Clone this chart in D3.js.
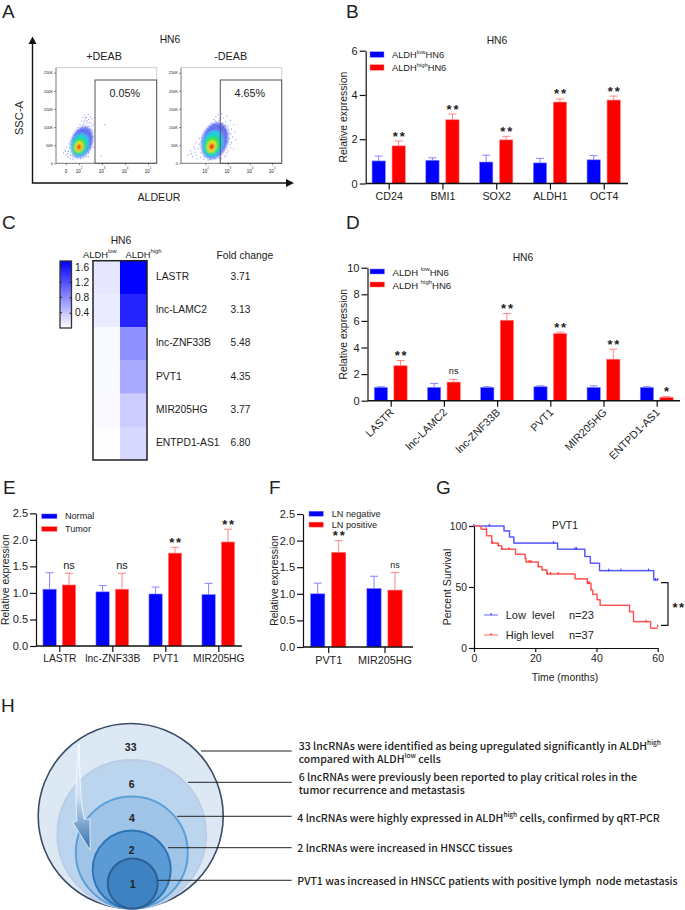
<!DOCTYPE html>
<html lang="en">
<head>
  <meta charset="UTF-8">
  <title>HN6 panels</title>
  <script src="https://d3js.org/d3.v7.min.js"></script>
  <style>
    body { margin: 0; background: #fff; }
    svg { display: block; }
    text { font-family: "Liberation Sans", Arial, sans-serif; fill: #222; }
    .axis path, .axis line { stroke: #111; stroke-width: 1.2; }
    .axis text { fill: #222; }
  </style>
</head>
<body>
  <svg width="685" height="910"></svg>

  <script>
    // panel A, flow plots (x in log10 decades, y in thousands)
    const flowYTicks = [0, 50, 100, 150, 200, 250];
    const flowPercent = ["0.05%", "4.65%"];
    const flowTitles = ["+DEAB", "-DEAB"];
    // contours: centre x, centre y, half width, half height
    const flowContoursPlus = [
      [2.12, 58, 0.46, 44], [2.05, 51, 0.36, 31], [2.02, 48, 0.27, 23], [2.0, 46, 0.18, 15], [2.0, 45, 0.09, 8]
    ];
    const flowContoursMinus = [
      [2.42, 62, 0.58, 52], [2.34, 54, 0.44, 36], [2.3, 50, 0.32, 26], [2.28, 47, 0.2, 17], [2.28, 46, 0.11, 9]
    ];
    const flowDotsPlus = [
      [1.3, 30], [1.35, 38], [1.42, 24], [1.45, 46], [1.5, 18], [1.52, 34], [1.55, 55], [1.6, 14], [1.62, 62],
      [1.68, 24], [1.7, 70], [1.72, 12], [1.78, 78], [1.8, 60], [1.85, 84], [1.88, 16], [1.9, 92], [1.92, 74],
      [1.95, 100], [2.0, 82], [2.02, 108], [2.05, 14], [2.08, 92], [2.1, 118], [2.12, 100], [2.15, 128], [2.18, 110],
      [2.2, 88], [2.22, 134], [2.25, 120], [2.28, 100], [2.3, 128], [2.32, 112], [2.35, 90], [2.38, 136], [2.4, 122],
      [2.42, 104], [2.45, 80], [2.48, 130], [2.5, 112], [2.5, 60], [2.52, 94], [2.55, 124], [2.58, 76], [2.6, 108],
      [2.62, 46], [2.65, 92], [2.4, 30], [2.3, 20], [2.45, 44], [2.2, 16], [3.1, 108], [2.95, 22],
      [1.4, 34], [1.48, 28], [1.56, 44], [1.6, 22], [1.65, 52], [1.72, 18], [1.76, 66], [1.82, 20], [1.86, 72],
      [1.96, 90], [2.04, 98], [2.14, 106], [2.16, 92], [2.2, 116], [2.24, 104], [2.27, 126], [2.34, 118], [2.36, 102],
      [2.42, 114], [2.44, 96], [2.5, 84], [2.52, 72], [2.54, 104], [2.46, 68], [2.56, 88], [2.48, 54], [2.4, 20]
    ];
    const flowDotsMinus = [
      [1.2, 24], [1.3, 36], [1.4, 20], [1.45, 46], [1.5, 30], [1.55, 58], [1.6, 14], [1.65, 42], [1.7, 70],
      [1.75, 18], [1.8, 62], [1.85, 80], [1.9, 12], [1.95, 88], [2.0, 72], [2.05, 96], [2.1, 10], [2.15, 104],
      [2.2, 84], [2.25, 112], [2.3, 96], [2.35, 122], [2.4, 108], [2.45, 130], [2.5, 114], [2.55, 136], [2.6, 100],
      [2.65, 124], [2.7, 138], [2.75, 112], [2.8, 126], [2.85, 92], [2.9, 116], [2.95, 132], [3.0, 104], [3.05, 84],
      [3.1, 120], [3.15, 96], [3.2, 74], [3.25, 108], [3.3, 88], [3.0, 60], [3.1, 44], [2.95, 30], [2.85, 20],
      [3.15, 58], [2.7, 14], [3.35, 66], [3.25, 40],
      [1.35, 28], [1.5, 40], [1.58, 24], [1.68, 54], [1.78, 30], [1.82, 72], [1.92, 20], [2.02, 84], [2.12, 94],
      [2.22, 100], [2.32, 108], [2.42, 118], [2.52, 104], [2.58, 120], [2.68, 110], [2.72, 96], [2.78, 100], [2.88, 106],
      [2.92, 84], [3.02, 94], [3.06, 70], [3.12, 82], [3.08, 52], [3.0, 36], [2.9, 24], [2.6, 16], [2.4, 14], [2.2, 12]
    ];

    // panel B
    const bCats = ["CD24", "BMI1", "SOX2", "ALDH1", "OCT4"];
    const bLow = [1.02, 1.05, 0.97, 0.93, 1.07];
    const bLowTop = [1.24, 1.16, 1.28, 1.14, 1.26];
    const bHigh = [1.7, 2.88, 1.97, 3.68, 3.77];
    const bHighTop = [1.92, 3.14, 2.13, 3.82, 3.95];
    const bSig = ["**", "**", "**", "**", "**"];
    const bTicks = [0, 2, 4, 6];

    // panel C
    const cRows = ["LASTR", "lnc-LAMC2", "lnc-ZNF33B", "PVT1", "MIR205HG", "ENTPD1-AS1"];
    const cFold = ["3.71", "3.13", "5.48", "4.35", "3.77", "6.80"];
    const cLow = [0.17, 0.14, 0.05, 0.05, 0.04, 0.01];
    const cHigh = [1.75, 1.5, 0.76, 0.59, 0.35, 0.27];
    const cTicks = [0.4, 0.8, 1.2, 1.6];

    // panel D
    const dCats = ["LASTR", "lnc-LAMC2", "lnc-ZNF33B", "PVT1", "MIR205HG", "ENTPD1-AS1"];
    const dLow = [1.0, 1.0, 1.0, 1.05, 1.0, 1.0];
    const dLowTop = [1.05, 1.3, 1.05, 1.12, 1.12, 1.05];
    const dHigh = [2.63, 1.4, 6.05, 5.05, 3.12, 0.25];
    const dHighTop = [3.02, 1.6, 6.55, 5.15, 3.87, 0.32];
    const dSig = ["**", "ns", "**", "**", "**", "*"];
    const dTicks = [0, 2, 4, 6, 8, 10];

    // panel E
    const eCats = ["LASTR", "lnc-ZNF33B", "PVT1", "MIR205HG"];
    const eLow = [1.07, 1.02, 0.98, 0.97];
    const eLowTop = [1.38, 1.14, 1.11, 1.18];
    const eHigh = [1.15, 1.07, 1.75, 1.96];
    const eHighTop = [1.37, 1.37, 1.86, 2.2];
    const eSig = ["ns", "ns", "**", "**"];

    // panel F
    const fCats = ["PVT1", "MIR205HG"];
    const fLow = [1.0, 1.1];
    const fLowTop = [1.2, 1.33];
    const fHigh = [1.78, 1.07];
    const fHighTop = [2.0, 1.4];
    const fSig = ["**", "ns"];
    const halfTicks = [0, 0.5, 1, 1.5, 2, 2.5];

    // panel G, survival steps [month, percent]
    const gLowSteps = [[0, 100], [9.8, 96], [11.6, 91], [13, 86], [27.3, 81], [36.2, 75], [38, 69.5], [41, 63.4], [58.7, 55.7], [60, 55.7]];
    const gHighSteps = [[0, 100], [2.3, 97.3], [4.1, 92], [5.8, 86], [7.9, 83.8], [9, 81], [13.6, 76.8], [16.7, 73.5], [17, 70.5], [21, 66.6],
      [22.2, 64], [23.8, 60.7], [33, 56.7], [37, 53], [38.2, 47.5], [38.8, 44], [40.2, 39.5], [41.2, 35], [50.8, 29.8], [52.1, 21.6], [57.7, 16.2], [60, 16.2]];
    const gLowCensor = [[0, 100], [5, 100], [26, 86], [33, 81], [33.5, 81], [44, 63.4], [48, 63.4], [57, 63.4], [59.3, 55.7], [60, 55.7]];
    const gHighCensor = [[4, 97.3], [6, 86], [8, 83.8], [9.2, 81], [11.4, 81], [18, 70.5], [18.6, 70.5], [21, 66.6], [24, 60.7], [25, 60.7], [27.5, 60.7],
      [37.2, 53], [37.7, 53], [56.2, 21.6], [60, 17.5]];
    const gXTicks = [0, 20, 40, 60];
    const gYTicks = [0, 50, 100];

    // panel H
    const hCounts = [33, 6, 4, 2, 1];
    const hText = [
      [[["33 lncRNAs were identified as being upregulated significantly in ALDH"], ["high", true]], [["compared with ALDH"], ["low", true], [" cells"]]],
      [[["6 lncRNAs were previously been reported to play critical roles in the"]], [["tumor recurrence and metastasis"]]],
      [[["4 lncRNAs were highly expressed in ALDH"], ["high", true], [" cells, confirmed by qRT-PCR"]]],
      [[["2 lncRNAs were increased in HNSCC tissues"]]],
      [[["PVT1 was increased in HNSCC patients with positive lymph  node metastasis"]]]
    ];

    const BLUE = "#0000ff", RED = "#ff0000", BLUE_SOFT = "#8585ff", RED_SOFT = "#ff8585";
    const svg = d3.select("svg");

    // text with optional superscript pieces
    function label(x, y, content, opts = {}) {
      const t = svg.append("text")
        .attr("x", x).attr("y", y)
        .attr("dominant-baseline", "central")
        .attr("text-anchor", opts.anchor || "start")
        .attr("font-size", opts.size || 10)
        .attr("font-weight", opts.weight || null);
      if (opts.rotate !== undefined) t.attr("transform", `rotate(${opts.rotate},${x},${y})`);
      if (opts.spacing) t.attr("letter-spacing", opts.spacing);
      if (opts.family) t.style("font-family", opts.family);
      if (typeof content === "string") { t.text(content); return t; }
      let shifted = 0;
      content.forEach(part => {
        const s = t.append("tspan").text(part[0]);
        const up = part[1] ? -3 : 0;
        if (up !== shifted) s.attr("dy", up - shifted);
        shifted = up;
        if (part[1]) s.attr("font-size", (opts.size || 10) * 0.62);
      });
      return t;
    }

    function panelLetter(x, y, s) {
      svg.append("text").attr("x", x).attr("y", y).attr("font-size", 19).attr("fill", "#222").text(s);
    }
    panelLetter(2, 18, "A"); panelLetter(346, 18, "B");
    panelLetter(2, 229, "C"); panelLetter(346, 229, "D");
    panelLetter(3, 494, "E"); panelLetter(269, 494, "F");
    panelLetter(436, 494, "G"); panelLetter(1, 712, "H");

    // ---------- A ----------
    const defs = svg.append("defs");
    defs.append("filter").attr("id", "soft").append("feGaussianBlur").attr("stdDeviation", 1.1);
    const contourColors = ["#2a3cf0", "#1fd0e0", "#35e04a", "#f4e82a", "#f01414"];

    function flowPlot(left, right, xDomain, contours, dots, xTickVals, title, titleX, pct, pctX, gateLeft) {
      const x = d3.scaleLinear().domain(xDomain).range([left, right]);
      const y = d3.scaleLinear().domain([0, 250]).range([163.3, 72.7]);
      const g = svg.append("g");

      dots.forEach(d => {
        g.append("rect").attr("x", x(d[0])).attr("y", y(d[1])).attr("width", 1).attr("height", 1)
          .attr("fill", "#4a5cf2").attr("opacity", 0.7);
      });
      const blob = g.append("g").attr("filter", "url(#soft)");
      contours.forEach((c, i) => {
        blob.append("ellipse")
          .attr("cx", x(c[0])).attr("cy", y(c[1]))
          .attr("rx", x(c[0] + c[2]) - x(c[0]))
          .attr("ry", y(c[1]) - y(c[1] + c[3]))
          .attr("fill", contourColors[i])
          .attr("opacity", i === 0 ? 0.7 : 1)
          .attr("transform", `rotate(18,${x(c[0])},${y(c[1])})`);
      });

      // frame
      g.append("path").attr("d", `M${left},67.7H${right}V163.3`).attr("fill", "none").attr("stroke", "#c4c4c4").attr("stroke-width", 0.8);
      g.append("path").attr("d", `M${left},163.3V67.7`).attr("stroke", "#555").attr("stroke-width", 0.8);
      g.append("path").attr("d", `M${left},163.3H${right}`).attr("stroke", "#555").attr("stroke-width", 0.8);
      g.append("rect").attr("x", gateLeft).attr("y", 80).attr("width", right - gateLeft).attr("height", 83.3)
        .attr("fill", "none").attr("stroke", "#555").attr("stroke-width", 1);

      const yAxis = g.append("g").attr("transform", `translate(${left},0)`)
        .call(d3.axisLeft(y).tickValues(flowYTicks).tickSize(2).tickPadding(1).tickFormat(v => v === 0 ? "0" : v + "K"));
      yAxis.select(".domain").remove();
      yAxis.selectAll("line").attr("stroke", "#444").attr("stroke-width", 0.6);
      yAxis.selectAll("text").attr("font-size", 4).attr("fill", "#444");

      const xAxis = g.append("g").attr("transform", "translate(0,163.3)")
        .call(d3.axisBottom(x).tickValues(xTickVals).tickSize(2).tickPadding(2).tickFormat(""));
      xAxis.select(".domain").remove();
      xAxis.selectAll("line").attr("stroke", "#444").attr("stroke-width", 0.6);
      xTickVals.forEach(v => {
        const zero = v < 2;
        label(x(v), 171, zero ? "0" : [["10"], [String(Math.round(v)), true]], { anchor: "middle", size: 4.5 });
      });

      label(titleX, 56, title, { anchor: "middle", size: 10.8 });
      label(pctX, 92.7, pct, { anchor: "middle", size: 10.8 });
    }
    flowPlot(56, 156.7, [1.0, 5.38], flowContoursPlus, flowDotsPlus, [1.43, 2, 3, 4, 5], flowTitles[0], 104, flowPercent[0], 124.7, 95);
    flowPlot(181, 281.7, [0.9, 5.43], flowContoursMinus, flowDotsMinus, [2, 3, 4, 5], flowTitles[1], 230.7, flowPercent[1], 249.7, 220.3);

    label(170, 39, "HN6", { anchor: "middle", size: 10.3 });
    svg.append("path").attr("d", "M32.5,42V183H287").attr("fill", "none").attr("stroke", "#111").attr("stroke-width", 1.4);
    svg.append("path").attr("d", "M32.5,36.5L28.5,44H36.5Z").attr("fill", "#111");
    svg.append("path").attr("d", "M294,183L286,179V187Z").attr("fill", "#111");
    label(18.5, 118, "SSC-A", { anchor: "middle", size: 11.2, rotate: -90 });
    label(159, 197, "ALDEUR", { anchor: "middle", size: 10.6 });

    // ---------- grouped bars, B D E F ----------
    function groupedBars(c) {
      const x = d3.scalePoint().domain(c.cats).range(c.centers);
      const y = d3.scaleLinear().domain([0, c.yMax]).range([c.bottom, c.top]);
      const sub = d3.scalePoint().domain(["low", "high"]).range([-c.offset, c.offset]);
      const g = svg.append("g");

      const series = [
        { key: "low", values: c.low, tops: c.lowTop, fill: BLUE, soft: BLUE_SOFT },
        { key: "high", values: c.high, tops: c.highTop, fill: RED, soft: RED_SOFT }
      ];
      series.forEach(s => {
        c.cats.forEach((cat, i) => {
          const cx = x(cat) + sub(s.key);
          g.append("path")
            .attr("d", `M${cx},${y(s.values[i])}V${y(s.tops[i])}M${cx - 4},${y(s.tops[i])}H${cx + 4}`)
            .attr("fill", "none").attr("stroke", s.soft).attr("stroke-width", 1);
          g.append("rect")
            .attr("x", cx - c.barWidth / 2).attr("y", y(s.values[i]))
            .attr("width", c.barWidth).attr("height", c.bottom - y(s.values[i]))
            .attr("fill", s.fill).attr("stroke", s.soft).attr("stroke-width", 0.6);
        });
      });

      c.cats.forEach((cat, i) => {
        const cx = x(cat) + sub("high");
        const yTop = y(c.highTop[i]) - 8;
        if (c.sig[i] === "ns") {
          label(cx, yTop, "ns", { anchor: "middle", size: c.nsSize || 10 });
        } else {
          svg.append("text").attr("x", cx + 1).attr("y", yTop + 7.5).attr("text-anchor", "middle")
            .attr("font-size", 13).attr("font-weight", "bold").attr("letter-spacing", 1.8).attr("fill", "#111").text(c.sig[i]);
        }
      });

      const yAxis = g.append("g").attr("class", "axis").attr("transform", `translate(${c.left},0)`)
        .call(d3.axisLeft(y).tickValues(c.yTicks).tickSize(6).tickSizeOuter(0).tickPadding(2)
          .tickFormat(c.yFormat || d3.format("d")));
      yAxis.selectAll("text").attr("font-size", 11);

      const xAxis = g.append("g").attr("class", "axis").attr("transform", `translate(0,${c.bottom})`)
        .call(d3.axisBottom(x).tickSize(6).tickPadding(3));
      xAxis.select(".domain").remove();
      xAxis.selectAll("text").attr("font-size", c.xSize || 10.7);
      if (c.slant) {
        xAxis.selectAll("text").attr("text-anchor", "end").attr("dy", 0)
          .attr("transform", "translate(-3,6) rotate(-45)");
      }
      g.append("line").attr("x1", c.left).attr("x2", c.right).attr("y1", c.bottom).attr("y2", c.bottom)
        .attr("stroke", "#111").attr("stroke-width", 1.4);

      label(c.titleX, (c.top + c.bottom) / 2, "Relative expression", { anchor: "middle", size: 10.4, rotate: -90 });

      c.legend.forEach((entry, i) => {
        const row = c.legendRows[i];
        svg.append("rect").attr("x", c.legendX).attr("y", row - c.legendH / 2)
          .attr("width", c.legendW).attr("height", c.legendH)
          .attr("fill", i ? RED : BLUE).attr("stroke", i ? RED_SOFT : BLUE_SOFT).attr("stroke-width", 0.5);
        label(c.legendTextX, row, entry, { size: c.legendSize });
      });
    }

    groupedBars({
      cats: bCats, low: bLow, lowTop: bLowTop, high: bHigh, highTop: bHighTop, sig: bSig,
      centers: [388.7, 603.7], offset: 10, barWidth: 13.3,
      left: 365.7, right: 628, top: 50.7, bottom: 183.5, yMax: 6, yTicks: bTicks, titleX: 344,
      legend: [[["ALDH"], ["low", true], ["HN6"]], [["ALDH"], ["high", true], ["HN6"]]],
      legendX: 370, legendW: 14, legendH: 5.5, legendRows: [54.5, 67.5], legendTextX: 392, legendSize: 9.3
    });
    label(497, 40, "HN6", { anchor: "middle", size: 10.3 });

    groupedBars({
      cats: dCats, low: dLow, lowTop: dLowTop, high: dHigh, highTop: dHighTop, sig: dSig,
      centers: [390.7, 656.7], offset: 9.8, barWidth: 13.3,
      left: 367.5, right: 680, top: 267.7, bottom: 400.7, yMax: 10, yTicks: dTicks, titleX: 344, slant: true,
      nsSize: 9.2, xSize: 10.8,
      legend: [[["ALDH "], ["low", true], ["HN6"]], [["ALDH "], ["high", true], ["HN6"]]],
      legendX: 370, legendW: 14.5, legendH: 5, legendRows: [271.5, 284.5], legendTextX: 392.5, legendSize: 9.6
    });
    label(523, 257, "HN6", { anchor: "middle", size: 10.3 });

    groupedBars({
      cats: eCats, low: eLow, lowTop: eLowTop, high: eHigh, highTop: eHighTop, sig: eSig,
      centers: [59.3, 218.3], offset: 9.7, barWidth: 13.3,
      left: 36, right: 242, top: 513.3, bottom: 646, yMax: 2.5, yTicks: halfTicks, yFormat: d3.format(".1f"), titleX: 5.5,
      xSize: 10.3, nsSize: 11,
      legend: ["Normal", "Tumor"],
      legendX: 41.7, legendW: 15.3, legendH: 4.7, legendRows: [516.3, 529], legendTextX: 65, legendSize: 9.1
    });

    groupedBars({
      cats: fCats, low: fLow, lowTop: fLowTop, high: fHigh, highTop: fHighTop, sig: fSig,
      centers: [328.2, 384.5], offset: 10.5, barWidth: 14.3,
      left: 303, right: 413, top: 514, bottom: 647, yMax: 2.5, yTicks: halfTicks, yFormat: d3.format(".1f"), titleX: 274,
      xSize: 10.8, nsSize: 9,
      legend: ["LN negative", "LN positive"],
      legendX: 309, legendW: 14.3, legendH: 5, legendRows: [513.7, 524.6], legendTextX: 331.7, legendSize: 9.2
    });

    // ---------- C heatmap ----------
    const heatColor = d3.scaleLinear().domain([0, 1.75]).range(["#ffffff", "#0000ff"]);
    const heatY = d3.scaleBand().domain(cRows).range([260.7, 460]);
    const heatX = d3.scaleBand().domain(["low", "high"]).range([93, 147]);
    cRows.forEach((r, i) => {
      svg.append("rect").attr("x", heatX("low")).attr("y", heatY(r)).attr("width", heatX.bandwidth()).attr("height", heatY.bandwidth() + 0.3)
        .attr("fill", heatColor(cLow[i]));
      svg.append("rect").attr("x", heatX("high")).attr("y", heatY(r)).attr("width", heatX.bandwidth()).attr("height", heatY.bandwidth() + 0.3)
        .attr("fill", heatColor(cHigh[i]));
      label(156, heatY(r) + heatY.bandwidth() / 2 - 0.8, r, { size: 10.3 });
      label(230.5, heatY(r) + heatY.bandwidth() / 2 - 0.8, cFold[i], { size: 10.2 });
    });
    svg.append("rect").attr("x", 93).attr("y", 260.7).attr("width", 54).attr("height", 199.3)
      .attr("fill", "none").attr("stroke", "#222").attr("stroke-width", 1.5);

    // colour bar
    const barY = d3.scaleLinear().domain([0, 1.75]).range([328, 261]);
    const grad = defs.append("linearGradient").attr("id", "heatBar").attr("x1", 0).attr("x2", 0).attr("y1", 1).attr("y2", 0);
    grad.append("stop").attr("offset", 0).attr("stop-color", heatColor(0));
    grad.append("stop").attr("offset", 1).attr("stop-color", heatColor(1.75));
    svg.append("rect").attr("x", 60).attr("y", 261).attr("width", 11.5).attr("height", 67)
      .attr("fill", "url(#heatBar)").attr("stroke", "#333").attr("stroke-width", 1.3);
    const barAxis = svg.append("g").attr("transform", "translate(71.5,0)")
      .call(d3.axisRight(barY).tickValues(cTicks).tickSize(-2).tickPadding(3.5).tickFormat(d3.format(".1f")));
    barAxis.select(".domain").remove();
    barAxis.selectAll("line").attr("stroke", "#222");
    barAxis.selectAll("text").attr("font-size", 10.2);
    cTicks.forEach(v => {
      svg.append("line").attr("x1", 60).attr("x2", 62).attr("y1", barY(v)).attr("y2", barY(v)).attr("stroke", "#222");
    });

    label(121, 240, "HN6", { anchor: "middle", size: 10.3 });
    label(83, 254, [["ALDH"], ["low", true]], { size: 9.4 });
    label(125.5, 254, [["ALDH"], ["high", true]], { size: 9.4 });
    label(216.5, 255, "Fold change", { size: 10.3 });

    // ---------- G survival ----------
    const gx = d3.scaleLinear().domain([0, 60]).range([474, 657.7]);
    const gy = d3.scaleLinear().domain([0, 100]).range([648, 526]);
    const stepLine = d3.line().x(d => gx(d[0])).y(d => gy(d[1])).curve(d3.curveStepAfter);

    const curves = [
      { steps: gLowSteps, censor: gLowCensor, color: "#3a3aff", soft: "#9a9aff" },
      { steps: gHighSteps, censor: gHighCensor, color: "#ff3030", soft: "#ff9a9a" }
    ];
    curves.forEach(cv => {
      svg.append("path").attr("d", stepLine(cv.steps)).attr("fill", "none").attr("stroke", cv.soft).attr("stroke-width", 1.6);
      svg.append("path").attr("d", stepLine(cv.steps)).attr("fill", "none").attr("stroke", cv.color).attr("stroke-width", 0.8);
      svg.selectAll(null).data(cv.censor).enter().append("line")
        .attr("x1", d => gx(d[0])).attr("x2", d => gx(d[0]))
        .attr("y1", d => gy(d[1]) - 2).attr("y2", d => gy(d[1]) + 0.5)
        .attr("stroke", cv.color).attr("stroke-width", 1.1);
    });

    const gxAxis = svg.append("g").attr("class", "axis").attr("transform", "translate(0,648)")
      .call(d3.axisBottom(gx).tickValues(gXTicks).tickSize(4).tickSizeOuter(0).tickPadding(3));
    gxAxis.selectAll("text").attr("font-size", 10.5);
    const gyAxis = svg.append("g").attr("class", "axis").attr("transform", "translate(474,0)")
      .call(d3.axisLeft(gy).tickValues(gYTicks).tickSize(5).tickSizeOuter(0).tickPadding(2));
    gyAxis.selectAll("text").attr("font-size", 10.3);

    label(446.7, 587, "Percent Survival", { anchor: "middle", size: 10.5, rotate: -90 });
    label(565, 677.5, "Time (months)", { anchor: "middle", size: 10.4 });
    label(565, 525, "PVT1", { anchor: "middle", size: 10.3 });

    [[615, curves[0], "Low  level", "n=23"], [635, curves[1], "High level", "n=37"]].forEach(r => {
      svg.append("line").attr("x1", 484).attr("x2", 498).attr("y1", r[0]).attr("y2", r[0]).attr("stroke", r[1].soft).attr("stroke-width", 1.5);
      svg.append("line").attr("x1", 491).attr("x2", 491).attr("y1", r[0] - 2).attr("y2", r[0] + 0.5).attr("stroke", r[1].color).attr("stroke-width", 1.1);
      label(505.7, r[0] - 0.5, r[2], { size: 11 }).style("white-space", "pre");
      label(569, r[0] - 0.5, r[3], { size: 11 });
    });

    svg.append("path").attr("d", "M661,582.7H668V625.3H661").attr("fill", "none").attr("stroke", "#111").attr("stroke-width", 1.2);
    svg.append("text").attr("x", 679).attr("y", 612).attr("text-anchor", "middle").attr("font-size", 13).attr("font-weight", "bold").attr("letter-spacing", 1.5).attr("fill", "#111").text("**");

    // ---------- H nested circles ----------
    const hRadius = d3.scaleOrdinal().domain(hCounts).range([92.5, 74.3, 56, 39, 25]);
    const hCenterX = d3.scaleOrdinal().domain(hCounts).range([130.7, 131.7, 131.8, 131.7, 132.7]);
    const hFill = d3.scaleOrdinal().domain(hCounts).range(["#dde8f5", "#bcd5ee", "#a0c4e8", "#5b9bd5", "#3f82c2"]);
    const hStroke = d3.scaleOrdinal().domain(hCounts).range(["#3c4c66", "#bccbe6", "#5b9fd8", "#2e75b6", "#2b6093"]);
    const hBottom = 908.5;

    hCounts.forEach(n => {
      svg.append("circle").attr("cx", hCenterX(n)).attr("cy", hBottom - hRadius(n)).attr("r", hRadius(n))
        .attr("fill", hFill(n)).attr("stroke", hStroke(n)).attr("stroke-width", n === 33 ? 1.6 : 2);
    });

    const hNumY = d3.scaleOrdinal().domain(hCounts).range([746.7, 784, 817.5, 850, 884]);
    hCounts.forEach(n => {
      label(hCenterX(n), hNumY(n), String(n), { anchor: "middle", size: 10.5, weight: "bold" });
    });

    const arrowFill = defs.append("linearGradient").attr("id", "arrowFill").attr("x1", 0).attr("x2", 0).attr("y1", 0).attr("y2", 1);
    arrowFill.append("stop").attr("offset", 0).attr("stop-color", "#eef4fb");
    arrowFill.append("stop").attr("offset", 0.5).attr("stop-color", "#cfe0f2");
    arrowFill.append("stop").attr("offset", 1).attr("stop-color", "#2f6fae");
    svg.append("path")
      .attr("d", "M79,744C76,775,75,800,77,821L72.7,822.5L90,850L90,819L84,819C80,800,80,770,79,744Z")
      .attr("fill", "url(#arrowFill)").attr("stroke", "#fff").attr("stroke-width", 0.7);

    const hLeader = d3.scaleOrdinal().domain(hCounts).range([[201, 751], [188, 782.3], [177, 816.3], [168, 847.7], [157.7, 880.3]]);
    hCounts.forEach(n => {
      const p = hLeader(n);
      svg.append("line").attr("x1", p[0]).attr("x2", 291.7).attr("y1", p[1]).attr("y2", p[1]).attr("stroke", "#222").attr("stroke-width", 1);
    });

    const hRows = [[298.7, [744.7, 758]], [298.7, [776, 789.3]], [297.3, [816.7]], [297.3, [847.3]], [297.3, [880]]];
    hText.forEach((lines, i) => {
      lines.forEach((parts, j) => {
        label(hRows[i][0], hRows[i][1][j], parts, { size: 10.55, family: "'Noto Sans CJK SC', 'Noto Sans', sans-serif", weight: 500 })
          .style("white-space", "pre");
      });
    });
  </script>
</body>
</html>
